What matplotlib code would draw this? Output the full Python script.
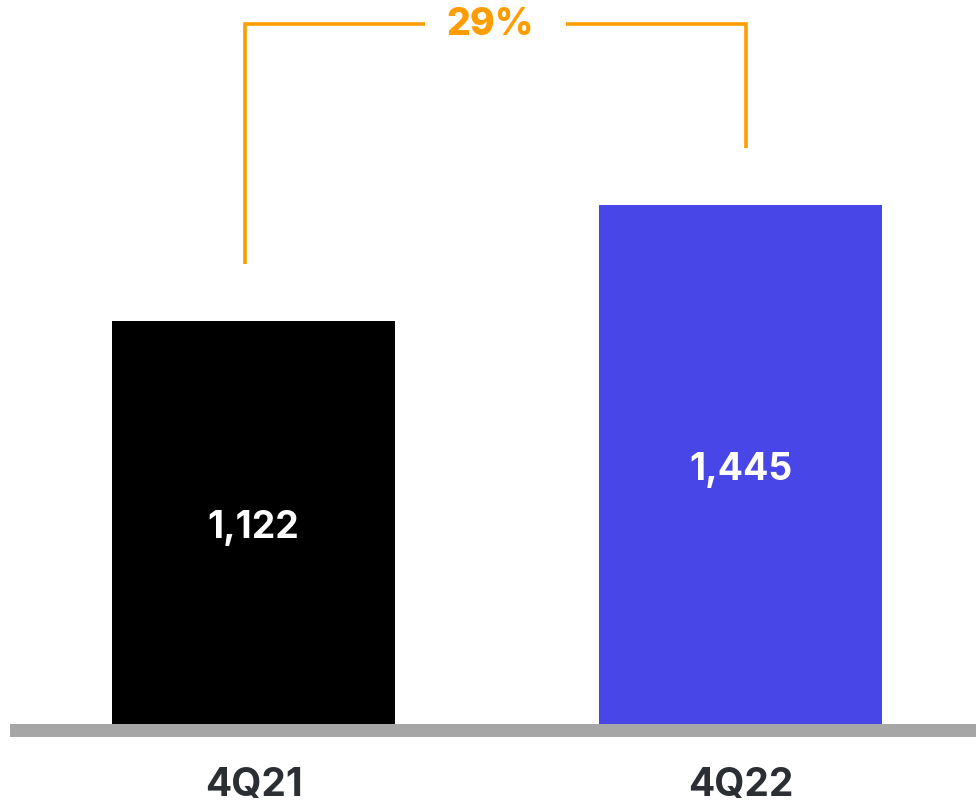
import matplotlib
matplotlib.use("Agg")
import matplotlib.pyplot as plt

# Data
categories = ["4Q21", "4Q22"]
values = [1122, 1445]
value_labels = ["1,122", "1,445"]
growth_label = "29%"

bar_colors = ["#000000", "#4946E8"]
orange = "#FF9C00"
baseline_gray = "#A6A6A6"
label_gray = "#2B2E33"

plt.rcParams["font.family"] = ["Inter", "DejaVu Sans"]

fig = plt.figure(figsize=(9.76, 8.08), dpi=100)
ax = fig.add_axes([0, 0, 1, 1])
ax.set_xlim(-0.5205, 1.4836)
ax.set_ylim(-233.8, 2015)
ax.axis("off")

x = list(range(len(categories)))
ax.bar(x, values, width=0.581, color=bar_colors, zorder=2)

# Baseline
ax.axhspan(-36, 0, xmin=10 / 976, xmax=1.0, color=baseline_gray, lw=0, zorder=1)

# Value labels inside the bars
for xi, v, lab in zip(x, values, value_labels):
    ax.text(xi, v / 2 - 15, lab, ha="center", va="center", color="white",
            fontsize=27, fontweight="bold")

# Category labels under the baseline
for xi, cat in zip(x, categories):
    ax.text(xi, -170, cat, ha="center", va="center", color=label_gray,
            fontsize=28, fontweight="bold")

# Growth bracket
lift = 158
top = 1948
xl, xr = x[0] - 0.0175, x[1] + 0.0113
xm = (xl + xr) / 2
gap = 0.145
lw = 2.6
ax.plot([xl, xl, xm - gap], [values[0] + lift, top, top], color=orange, lw=lw,
        solid_joinstyle="miter", solid_capstyle="butt")
ax.plot([xm + gap, xr, xr], [top, top, values[1] + lift], color=orange, lw=lw,
        solid_joinstyle="miter", solid_capstyle="butt")
ax.text(xm - 0.01, top - 2, growth_label, ha="center", va="center", color=orange,
        fontsize=27, fontweight="heavy")

fig.savefig("out.png", dpi=100)
